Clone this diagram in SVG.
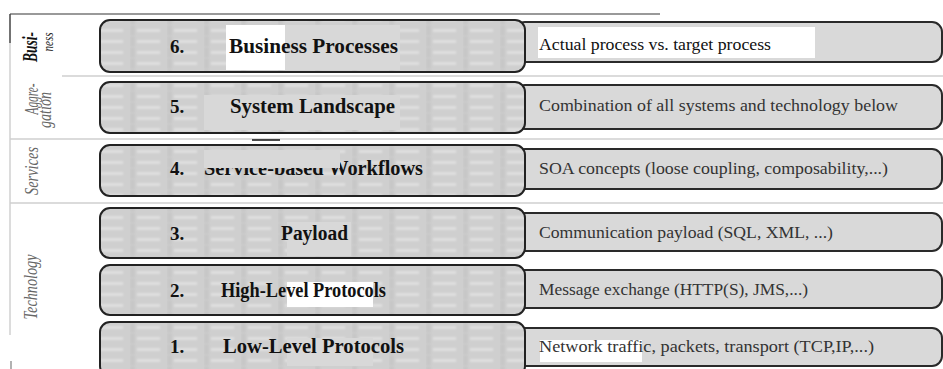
<svg xmlns="http://www.w3.org/2000/svg" width="943" height="369" viewBox="0 0 943 369">
<defs>
<filter id="soft" x="-30%" y="-150%" width="160%" height="400%"><feGaussianBlur stdDeviation="1"/></filter>
<pattern id="brick" x="93" y="25" width="37" height="11" patternUnits="userSpaceOnUse">
<rect width="37" height="11" fill="#cfcfcf"/>
<rect x="0" y="0" width="5" height="11" fill="#c7c7c7" filter="url(#soft)"/>
<rect x="7" y="4.5" width="23" height="2" fill="#e8e8e8" filter="url(#soft)"/>
</pattern>
</defs>
<style>
.lbox{fill:url(#brick);stroke:#222;stroke-width:2}
.rbox{fill:#d9d9d9;stroke:#2a2a2a;stroke-width:2}
.num{font-family:"Liberation Serif",serif;font-weight:bold;font-size:19px;fill:#111}
.title{font-family:"Liberation Serif",serif;font-weight:bold;font-size:20px;fill:#111}
.desc{font-family:"Liberation Serif",serif;font-size:17px;fill:#333}
.sec{font-family:"Liberation Serif",serif;font-style:italic;font-size:19px;fill:#666;text-anchor:middle}
.sep{stroke:#cfcfcf;stroke-width:1.5}
</style>
<rect width="943" height="369" fill="#fff"/>
<g id="frame">
<line x1="10" y1="14" x2="660" y2="14" stroke="#777" stroke-width="1.5"/>
<line x1="10" y1="14" x2="10" y2="43" stroke="#444" stroke-width="1.5"/>
<line x1="10" y1="43" x2="10" y2="335" stroke="#d0d0d0" stroke-width="1.5"/>
<line class="sep" x1="62" y1="76" x2="943" y2="76"/>
<line class="sep" x1="10" y1="139" x2="943" y2="139"/>
<line class="sep" x1="10" y1="203" x2="943" y2="203"/>
<line x1="11" y1="361" x2="11" y2="369" stroke="#999" stroke-width="1.5"/>
</g>
<g id="sections">
<text transform="translate(37,47) rotate(-90)" text-anchor="middle" font-family="Liberation Serif,serif" font-style="italic" font-weight="bold" font-size="20" fill="#111" textLength="30" lengthAdjust="spacingAndGlyphs">Busi-</text>
<text transform="translate(53,42) rotate(-90)" text-anchor="middle" font-family="Liberation Serif,serif" font-style="italic" font-size="15" fill="#222" textLength="19" lengthAdjust="spacingAndGlyphs">ness</text>
<text class="sec" transform="translate(38,99) rotate(-90)" textLength="31" lengthAdjust="spacingAndGlyphs">Aggre-</text>
<text class="sec" transform="translate(51,110) rotate(-90)" textLength="36" lengthAdjust="spacingAndGlyphs">gation</text>
<text class="sec" transform="translate(38,171) rotate(-90)" textLength="48" lengthAdjust="spacingAndGlyphs">Services</text>
<text class="sec" transform="translate(37,287) rotate(-90)" textLength="65" lengthAdjust="spacingAndGlyphs">Technology</text>
</g>
<g id="layer6">
<rect class="rbox" x="515" y="22" width="427" height="40" rx="10"/>
<rect x="538" y="27" width="277" height="31" fill="#fff"/>
<rect class="lbox" x="100" y="20" width="425" height="52" rx="10"/>
<rect x="226" y="25" width="59" height="45" fill="#fff"/>
<rect x="285" y="25" width="115" height="45" fill="#d8d8d8"/>
<text class="num" x="170" y="53">6.</text>
<text class="title" x="229" y="53" textLength="169" lengthAdjust="spacingAndGlyphs">Business Processes</text>
<text class="desc" x="539" y="50" textLength="232" lengthAdjust="spacingAndGlyphs" style="fill:#111">Actual process vs. target process</text>
</g>
<g id="layer5">
<rect class="rbox" x="515" y="85" width="427" height="44" rx="10"/>
<rect class="lbox" x="100" y="82" width="425" height="51" rx="10"/>
<rect x="204" y="95" width="196" height="35" fill="#d8d8d8"/>
<text class="num" x="170" y="113">5.</text>
<text class="title" x="230" y="113" textLength="165" lengthAdjust="spacingAndGlyphs">System Landscape</text>
<text class="desc" x="539" y="111" textLength="359" lengthAdjust="spacingAndGlyphs">Combination of all systems and technology below</text>
</g>
<g id="layer4">
<rect class="rbox" x="515" y="149" width="427" height="40" rx="10"/>
<rect class="lbox" x="100" y="145" width="425" height="51" rx="10"/>
<text class="num" x="170" y="175">4.</text>
<text class="title" x="204" y="175" textLength="219" lengthAdjust="spacingAndGlyphs">Service-based Workflows</text>
<rect x="204" y="150" width="136" height="18" fill="#d8d8d8"/>
<line x1="252" y1="140" x2="280" y2="140" stroke="#111" stroke-width="1.5"/>
<text class="desc" x="539" y="174" textLength="349" lengthAdjust="spacingAndGlyphs">SOA concepts (loose coupling, composability,...)</text>
</g>
<g id="layer3">
<rect class="rbox" x="515" y="213" width="427" height="38" rx="10"/>
<rect class="lbox" x="100" y="208" width="425" height="50" rx="10"/>
<rect x="287" y="222" width="64" height="34" fill="#d8d8d8"/>
<text class="num" x="170" y="240">3.</text>
<text class="title" x="281" y="240" textLength="67" lengthAdjust="spacingAndGlyphs">Payload</text>
<text class="desc" x="539" y="238" textLength="294" lengthAdjust="spacingAndGlyphs">Communication payload (SQL, XML, ...)</text>
</g>
<g id="layer2">
<rect class="rbox" x="515" y="270" width="427" height="38" rx="10"/>
<rect class="lbox" x="100" y="265" width="425" height="50" rx="10"/>
<rect x="287" y="282" width="86" height="25" fill="#fff"/>
<text class="num" x="170" y="297">2.</text>
<text class="title" x="221" y="297" textLength="165" lengthAdjust="spacingAndGlyphs">High-Level Protocols</text>
<text class="desc" x="539" y="295" textLength="269" lengthAdjust="spacingAndGlyphs">Message exchange (HTTP(S), JMS,...)</text>
</g>
<g id="layer1">
<rect class="rbox" x="515" y="328" width="427" height="38" rx="10"/>
<rect x="540" y="340" width="102" height="22" fill="#fff"/>
<rect class="lbox" x="100" y="322" width="425" height="54" rx="10"/>
<rect x="287" y="338" width="86" height="28" fill="#d8d8d8"/>
<text class="num" x="170" y="353">1.</text>
<text class="title" x="223" y="353" textLength="181" lengthAdjust="spacingAndGlyphs">Low-Level Protocols</text>
<text class="desc" x="539" y="352" textLength="335" lengthAdjust="spacingAndGlyphs">Network traffic, packets, transport (TCP,IP,...)</text>
</g>
</svg>
